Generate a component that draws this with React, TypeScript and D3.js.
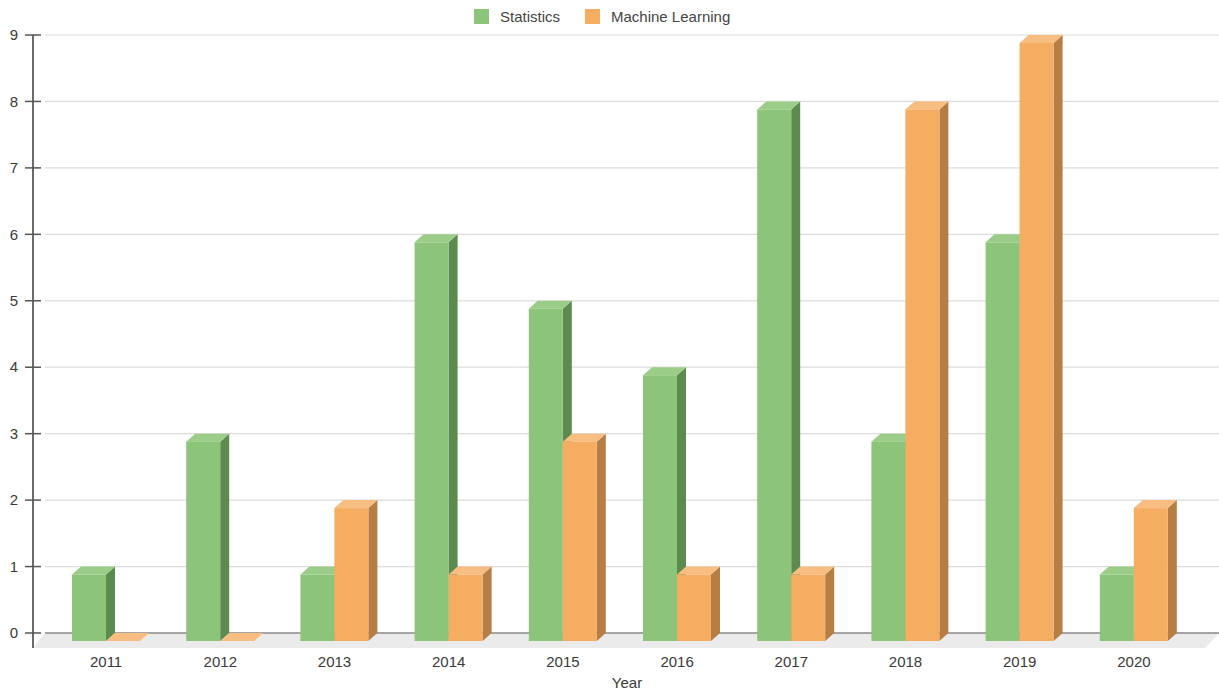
import React from "react";
import * as d3 from "d3";

const years = ["2011", "2012", "2013", "2014", "2015", "2016", "2017", "2018", "2019", "2020"];
const statistics = [1, 3, 1, 6, 5, 4, 8, 3, 6, 1];
const machineLearning = [0, 0, 2, 1, 3, 1, 1, 8, 9, 2];
const seriesNames = ["Statistics", "Machine Learning"];
const yTicks = [0, 1, 2, 3, 4, 5, 6, 7, 8, 9];

const W = 1219;
const H = 690;
const DX = 9;
const DY = 8;

const palettes = [
  { front: "#8cc47a", side: "#5d8a4e", top: "#9bcd89" },
  { front: "#f5ad62", side: "#b67d45", top: "#f8bd80" },
];

export default function App() {
  const yBack = d3.scaleLinear().domain([0, 9]).range([633, 35]);
  const yFront = (v: number) => yBack(v) + DY;
  const x = d3.scaleBand<string>().domain(years).range([49, 1191]).paddingInner(0).paddingOuter(0);
  const xs = d3.scaleBand<number>().domain([0, 1]).range([23, 91]);
  const data = [statistics, machineLearning];

  const bars: React.ReactNode[] = [];
  years.forEach((yr, i) => {
    data.forEach((series, s) => {
      const v = series[i];
      const x0 = (x(yr) as number) + (xs(s) as number);
      const w = xs.bandwidth();
      const yb = yFront(0);
      const yt = yFront(v);
      const p = palettes[s];
      if (v === 0) {
        bars.push(
          <polygon key={`${yr}-${s}`} fill={p.top}
            points={`${x0},${yb} ${x0 + w},${yb} ${x0 + w + DX},${yb - DY} ${x0 + DX},${yb - DY}`} />
        );
      } else {
        bars.push(
          <g key={`${yr}-${s}`}>
            <polygon fill={p.side}
              points={`${x0 + w},${yb} ${x0 + w + DX},${yb - DY} ${x0 + w + DX},${yt - DY} ${x0 + w},${yt}`} />
            <polygon fill={p.top}
              points={`${x0},${yt} ${x0 + w},${yt} ${x0 + w + DX},${yt - DY} ${x0 + DX},${yt - DY}`} />
            <rect x={x0} y={yt} width={w} height={yb - yt} fill={p.front} />
          </g>
        );
      }
    });
  });

  return (
    <svg width={W} height={H} style={{ position: "absolute", left: 0, top: 0, display: "block" }}
      fontFamily="'Liberation Sans', Arial, sans-serif">
      <rect width={W} height={H} fill="#ffffff" />
      {/* floor */}
      <polygon points={`33,648 1205,648 1219,633 45,633`} fill="#ebebeb" />
      {/* grid */}
      {yTicks.map((t) => (
        <line key={t} x1={45} x2={1219} y1={yBack(t)} y2={yBack(t)}
          stroke={t === 0 ? "#8a8a8a" : "#dcdcdc"} strokeWidth={t === 0 ? 1.5 : 1.2} />
      ))}
      {/* y axis */}
      <line x1={33} x2={33} y1={35} y2={648} stroke="#6a6a6a" strokeWidth={2} />
      {yTicks.map((t) => (
        <g key={`t${t}`}>
          <line x1={25} x2={41} y1={yBack(t)} y2={yBack(t)} stroke="#555" strokeWidth={1.5} />
          <text x={18} y={yBack(t)} dy="0.35em" textAnchor="end" fontSize={15} fill="#3a3a3a">{t}</text>
        </g>
      ))}
      {bars}
      {/* x labels */}
      {years.map((yr) => (
        <text key={`l${yr}`} x={(x(yr) as number) + x.bandwidth() / 2} y={662} dy="0.35em"
          textAnchor="middle" fontSize={15} fill="#3a3a3a">{yr}</text>
      ))}
      <text x={627} y={683} dy="0.35em" textAnchor="middle" fontSize={15} fill="#3a3a3a">Year</text>
      {/* legend */}
      <rect x={474} y={9} width={15} height={15} fill={palettes[0].front} />
      <text x={500} y={17} dy="0.35em" fontSize={15} fill="#444">{seriesNames[0]}</text>
      <rect x={585} y={9} width={15} height={15} fill={palettes[1].front} />
      <text x={611} y={17} dy="0.35em" fontSize={15} fill="#444">{seriesNames[1]}</text>
    </svg>
  );
}
